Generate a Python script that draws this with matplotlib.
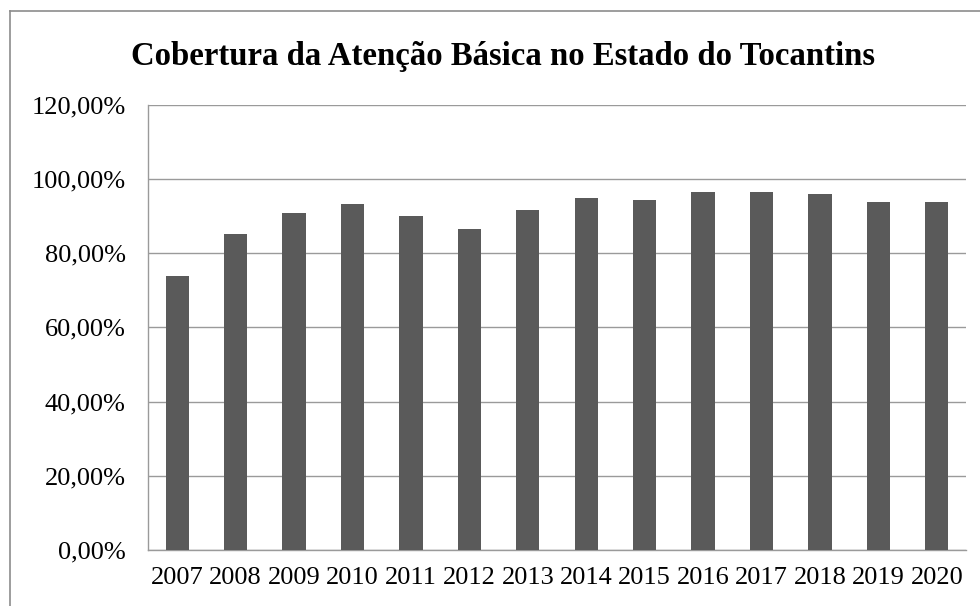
import matplotlib.pyplot as plt
from matplotlib.lines import Line2D

anos = ['2007', '2008', '2009', '2010', '2011', '2012', '2013',
        '2014', '2015', '2016', '2017', '2018', '2019', '2020']
cobertura = [73.8, 85.1, 90.8, 93.1, 90.1, 86.4, 91.6,
             94.8, 94.4, 96.3, 96.3, 95.9, 93.7, 93.7]
yticks = [0, 20, 40, 60, 80, 100, 120]

plt.rcParams['font.family'] = ['Liberation Serif', 'DejaVu Serif']

fig = plt.figure(figsize=(9.8, 6.06), dpi=100)
ax = fig.add_axes([148/980, 56/606, (966-148)/980, (550-104.5)/606])

# moldura do grafico (so aparecem topo e esquerda)
fig.add_artist(Line2D([10/980, 10/980], [0, 1 - 11/606], color='#8c8c8c', lw=1.2,
                      transform=fig.transFigure))
fig.add_artist(Line2D([10/980, 1], [1 - 11/606, 1 - 11/606], color='#8c8c8c', lw=1.2,
                      transform=fig.transFigure))

x = range(len(anos))
ax.bar(x, cobertura, width=0.4, color='#5a5a5a', zorder=3)

ax.set_xlim(-0.5, len(anos) - 0.5)
ax.set_ylim(0, 120)
ax.set_yticks(yticks)
ax.set_yticklabels([f'{v},00%' for v in yticks])
ax.set_xticks(list(x))
ax.set_xticklabels(anos)

ax.grid(axis='y', color='#9a9a9a', lw=1, zorder=0)
for s in ['top', 'right']:
    ax.spines[s].set_visible(False)
for s in ['left', 'bottom']:
    ax.spines[s].set_color('#9a9a9a')
    ax.spines[s].set_linewidth(1)

ax.tick_params(axis='y', length=0, pad=16, labelsize=19)
ax.tick_params(axis='x', length=0, pad=12, labelsize=19)

fig.text(0.513, 1 - 57/606, 'Cobertura da Atenção Básica no Estado do Tocantins',
         ha='center', va='center', fontsize=23.6, fontweight='bold')

fig.savefig('out.png', dpi=100)
